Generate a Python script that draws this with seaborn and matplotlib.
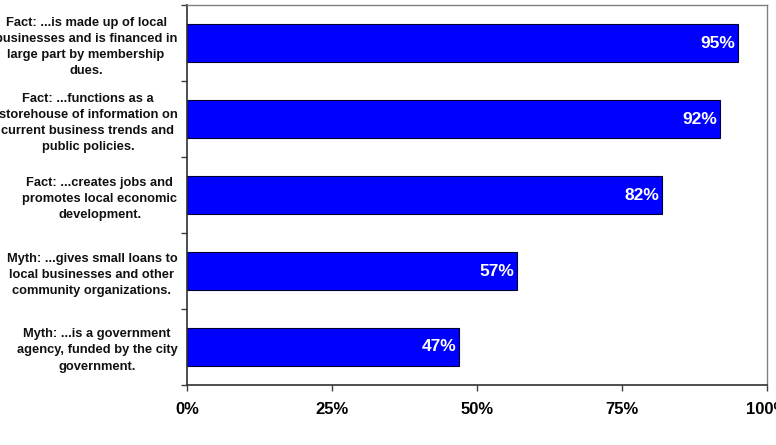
import numpy as np
import pandas as pd
import matplotlib
matplotlib.use('Agg')
import matplotlib.pyplot as plt
import seaborn as sns
from matplotlib.ticker import FixedLocator, FuncFormatter

# chart data (top to bottom)
statements = [
    "Fact: ...is made up of local\nbusinesses and is financed in\nlarge part by membership\ndues.",
    "Fact: ...functions as a\nstorehouse of information on\ncurrent business trends and\npublic policies.",
    "Fact: ...creates jobs and\npromotes local economic\ndevelopment.",
    "Myth: ...gives small loans to\nlocal businesses and other\ncommunity organizations.",
    "Myth: ...is a government\nagency, funded by the city\ngovernment.",
]
percent = [95, 92, 82, 57, 47]
x_ticks = [0, 25, 50, 75, 100]

df = pd.DataFrame({'statement': statements, 'percent': percent})

sns.set_style('white')
plt.rcParams['font.family'] = ['Liberation Sans', 'DejaVu Sans']

fig = plt.figure(figsize=(7.76, 4.45), dpi=100)
ax = fig.add_axes([0.241, 0.135, 0.747, 0.853])

sns.barplot(data=df, x='percent', y='statement', orient='h', color='#0000FF',
            saturation=1, width=0.5, edgecolor='#000033', linewidth=0.8, ax=ax)

# value labels inside bar ends
for i, v in enumerate(percent):
    ax.text(v - 0.5, i, f"{v}%", ha='right', va='center', color='white',
            fontsize=12.5, fontweight='bold')

ax.set_xlim(0, 100)
ax.set_ylim(len(statements) - 0.5, -0.5)
ax.set_xlabel('')
ax.set_ylabel('')

ax.xaxis.set_major_locator(FixedLocator(x_ticks))
ax.xaxis.set_major_formatter(FuncFormatter(lambda v, p: f"{int(v)}%"))
ax.tick_params(axis='x', bottom=True, direction='out', length=4, width=1,
               color='#404040', labelsize=12, pad=8, labelcolor='black')
for t in ax.get_xticklabels():
    t.set_fontweight('bold')

# labels at bar centres, separator ticks at boundaries
ax.set_yticks(range(len(statements)))
ax.set_yticklabels(statements, fontsize=9.3, fontweight='bold',
                   multialignment='center', linespacing=1.45)
ax.tick_params(axis='y', which='major', left=False, length=0, pad=7,
               labelcolor='#111111')
ax.yaxis.set_minor_locator(FixedLocator(np.arange(-0.5, len(statements), 1)))
ax.tick_params(axis='y', which='minor', left=True, direction='out', length=4,
               width=1, color='#404040')

for side in ['left', 'bottom']:
    ax.spines[side].set_color('#303030')
    ax.spines[side].set_linewidth(1.2)
for side in ['top', 'right']:
    ax.spines[side].set_color('#808080')
    ax.spines[side].set_linewidth(1)

fig.savefig('out.png', dpi=100)
